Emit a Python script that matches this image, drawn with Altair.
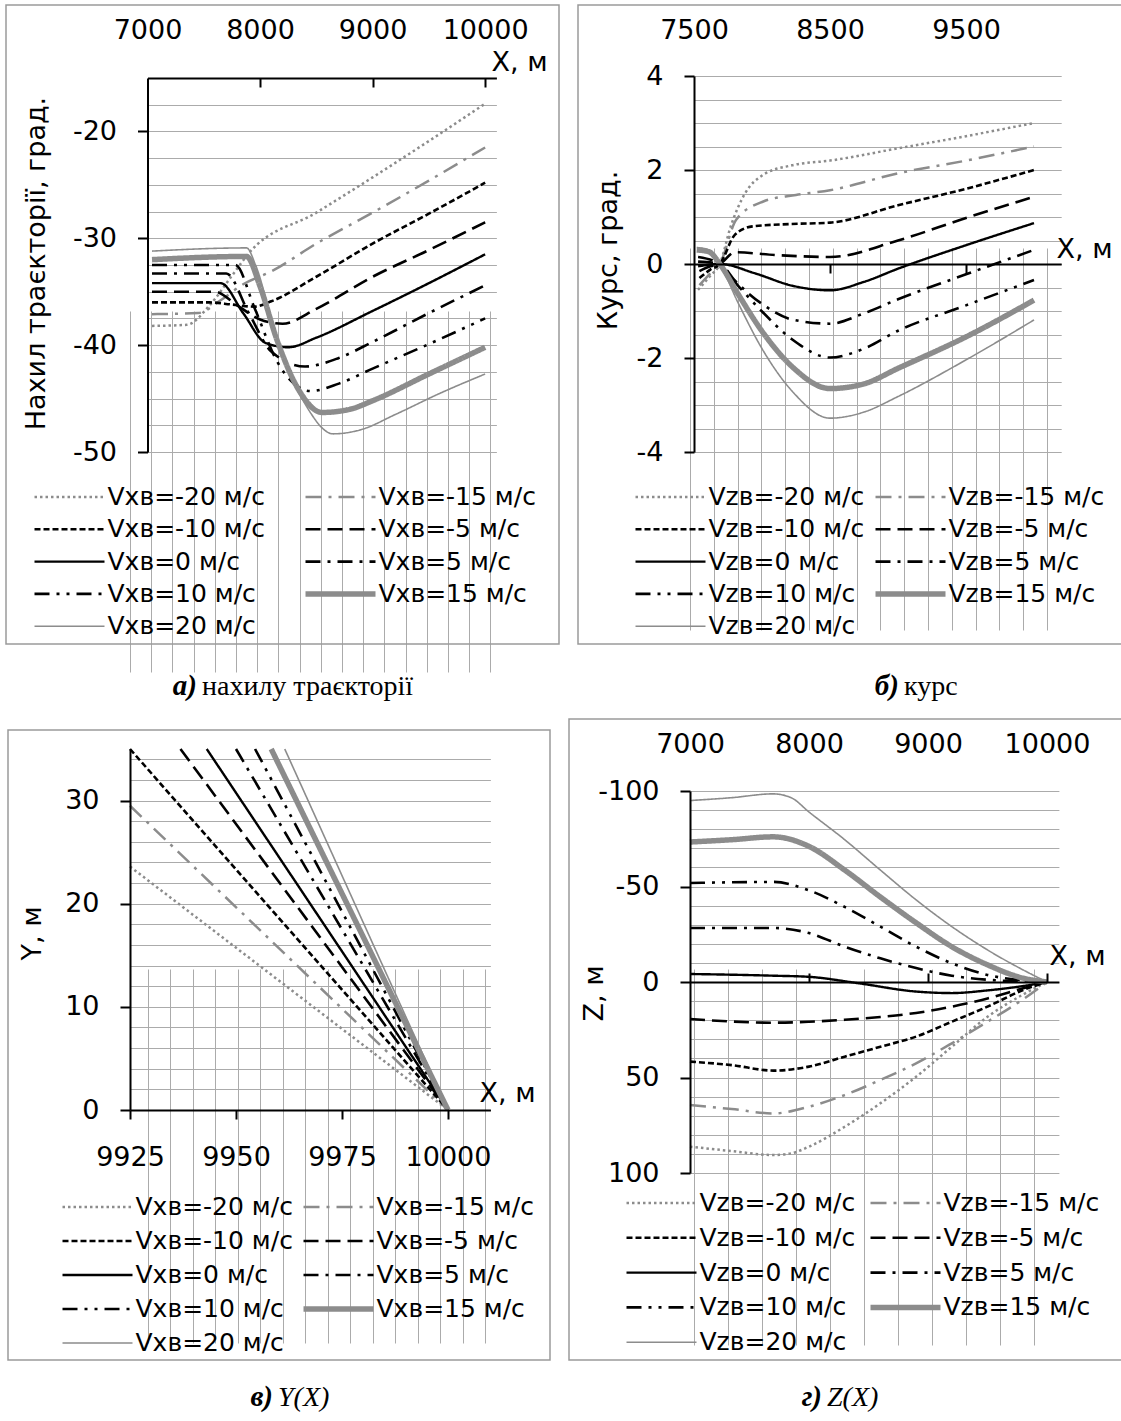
import altair as alt
import pandas as pd

W, H = 1121, 1421
FONT = "DejaVu Sans"
SERIF = "Liberation Serif"
GRID = "#ababab"
FRAME = "#9a9a9a"

winds = [-20, -15, -10, -5, 0, 5, 10, 15, 20]
labels_x = ["Vxв=%d м/с" % w for w in winds]
labels_z = ["Vzв=%d м/с" % w for w in winds]
line_colors = ["#8c8c8c", "#8c8c8c", "#000000", "#000000", "#000000",
               "#000000", "#000000", "#8c8c8c", "#8c8c8c"]
line_dashes = [[2.5, 3], [16, 7, 3, 7], [6, 3], [15, 7], [1, 0],
               [15, 7, 3, 7], [15, 7, 3, 7, 3, 7], [1, 0], [1, 0]]
line_widths = [2.5, 2.5, 2.6, 2.6, 2.4, 2.6, 2.6, 5.5, 1.6]
# legend is filled column by column: first column -20,-10,0,10,20; second -15,-5,5,15
legend_order = [0, 2, 4, 6, 8, 1, 3, 5, 7]

# ---- а) trajectory pitch angle, deg ----
pitch_x = {
    -20: [7040, 7350, 7550, 7750, 7900, 8500, 9000, 9500, 10000],
    -15: [7040, 7450, 7650, 7850, 8100, 8500, 9000, 9500, 10000],
    -10: [7040, 7550, 7750, 7950, 8100, 8500, 9000, 9500, 10000],
    -5: [7040, 7600, 7800, 8000, 8200, 8500, 9000, 9500, 10000],
    0: [7040, 7650, 7850, 8050, 8250, 8500, 9000, 9500, 10000],
    5: [7040, 7700, 7900, 8100, 8400, 8700, 9000, 9500, 10000],
    10: [7040, 7780, 7950, 8150, 8450, 8700, 9000, 9500, 10000],
    15: [7040, 7880, 8000, 8150, 8350, 8550, 8800, 9000, 9500, 10000],
    20: [7040, 7880, 7960, 8150, 8400, 8650, 8900, 9200, 9600, 10000],
}
pitch_y = {
    -20: [-38.2, -38.1, -36.3, -33.5, -31.4, -27.6, -24.3, -20.9, -17.4],
    -15: [-37.1, -37.0, -35.8, -34.3, -33.1, -30.5, -27.6, -24.6, -21.5],
    -10: [-36.0, -36.0, -36.2, -36.4, -35.9, -33.6, -30.5, -27.7, -24.8],
    -5: [-35.0, -35.0, -36.3, -37.6, -38.0, -36.6, -33.6, -31.1, -28.5],
    0: [-34.2, -34.2, -37.0, -39.8, -40.2, -39.3, -36.8, -34.2, -31.5],
    5: [-33.3, -33.3, -37.0, -40.6, -42.0, -41.2, -39.7, -37.0, -34.4],
    10: [-32.5, -32.5, -36.5, -41.5, -44.3, -43.6, -42.2, -39.9, -37.5],
    15: [-32.0, -31.7, -34.5, -39.5, -44.3, -46.3, -46.0, -45.2, -42.7, -40.2],
    20: [-31.2, -30.9, -32.5, -39.5, -45.5, -48.3, -47.9, -46.5, -44.5, -42.7],
}

# ---- б) heading, deg ----
course_x = {
    -20: [7530, 7620, 7690, 7770, 7875, 8010, 8220, 8500, 9000, 9500, 10000],
    -15: [7540, 7620, 7690, 7810, 8010, 8250, 8500, 9000, 9500, 10000],
    -10: [7540, 7620, 7690, 7800, 7930, 8200, 8500, 9000, 9500, 10000],
    -5: [7540, 7620, 7690, 7800, 8100, 8500, 9000, 9500, 10000],
    0: [7530, 7690, 7950, 8220, 8500, 8750, 9000, 9500, 10000],
    5: [7530, 7690, 7800, 8000, 8220, 8500, 8750, 9000, 9500, 10000],
    10: [7530, 7690, 7820, 7980, 8220, 8500, 8750, 9000, 9500, 10000],
    15: [7520, 7610, 7690, 7820, 8010, 8220, 8500, 8750, 9000, 9500, 10000],
    20: [7520, 7610, 7690, 7820, 8010, 8220, 8500, 8750, 9000, 9500, 10000],
}
course_y = {
    -20: [-0.55, -0.25, 0.0, 0.8, 1.5, 1.9, 2.1, 2.2, 2.46, 2.72, 3.0],
    -15: [-0.45, -0.2, 0.0, 0.94, 1.33, 1.47, 1.57, 1.93, 2.2, 2.5],
    -10: [-0.3, -0.12, 0.0, 0.62, 0.8, 0.85, 0.88, 1.25, 1.6, 2.0],
    -5: [-0.15, -0.05, 0.0, 0.25, 0.19, 0.15, 0.5, 0.98, 1.43],
    0: [-0.05, 0.0, -0.2, -0.46, -0.56, -0.38, -0.1, 0.4, 0.87],
    5: [0.05, 0.0, -0.35, -0.85, -1.18, -1.27, -1.05, -0.75, -0.22, 0.3],
    10: [0.15, 0.0, -0.45, -0.95, -1.6, -1.99, -1.8, -1.42, -0.88, -0.34],
    15: [0.3, 0.26, 0.0, -0.62, -1.47, -2.18, -2.65, -2.55, -2.22, -1.55, -0.77],
    20: [0.35, 0.3, 0.0, -0.8, -1.85, -2.7, -3.28, -3.15, -2.82, -2.04, -1.19],
}

# ---- в) Y(X), m ----
yx_x = {
    -20: [9925, 10000], -15: [9925, 10000], -10: [9925, 10000],
    -5: [9936.9, 10000], 0: [9943.1, 10000], 5: [9950.0, 10000],
    10: [9954.5, 10000], 15: [9958.3, 10000], 20: [9961.5, 10000],
}
yx_y = {
    -20: [23.6, 0], -15: [29.5, 0], -10: [35.0, 0], -5: [35, 0], 0: [35, 0],
    5: [35, 0], 10: [35, 0], 15: [35, 0], 20: [35, 0],
}

# ---- г) Z(X), m ----
zx_x = {
    20: [7000, 7350, 7700, 7850, 8000, 8300, 8600, 8900, 9200, 9500, 9800, 10000],
    15: [7000, 7350, 7700, 8000, 8300, 8600, 8900, 9200, 9500, 9800, 10000],
    10: [7000, 7350, 7700, 8000, 8300, 8600, 8900, 9200, 9500, 9800, 10000],
    5: [7000, 7700, 8000, 8300, 8600, 8900, 9200, 9500, 10000],
    0: [7000, 7700, 8000, 8400, 8900, 9200, 9500, 9800, 10000],
    -5: [7000, 7700, 8000, 8300, 8600, 8900, 9200, 9500, 9800, 10000],
    -10: [7000, 7350, 7700, 8000, 8300, 8600, 8900, 9200, 9500, 9800, 10000],
    -15: [7000, 7350, 7700, 8000, 8300, 8600, 8900, 9200, 9500, 9800, 10000],
    -20: [7000, 7350, 7700, 7850, 8000, 8300, 8600, 8900, 9200, 9500, 9800, 10000],
}
zx_y = {
    20: [-95, -96.5, -98.5, -96.5, -89, -74.5, -58.6, -43, -29, -16.8, -6.3, 0],
    15: [-73.3, -74.5, -76, -71, -58.6, -44.5, -31, -18.5, -9, -2, 0],
    10: [-51.8, -52.2, -52.4, -48, -39.3, -29, -18.5, -9.8, -3.7, -0.8, 0],
    5: [-28.3, -28.3, -25.6, -18.5, -12.4, -7.3, -3.3, -1.2, 0],
    0: [-4.2, -3.3, -2.7, 0.5, 5.0, 5.8, 4.4, 2.1, 0],
    -5: [19.4, 21.3, 20.8, 19.8, 18.3, 16.2, 12.9, 8.6, 3.3, 0],
    -10: [41.7, 43.5, 46.4, 44.3, 39.1, 33.9, 28.6, 20.8, 12.9, 4.2, 0],
    -15: [64.4, 66.5, 68.8, 65.3, 59.2, 51.3, 42.6, 32.1, 20.8, 9.0, 0],
    -20: [86.2, 88.5, 90.6, 89.7, 86.2, 75.8, 63.5, 49.6, 33.9, 18.2, 6.5, 0],
}

captions = [("а)", "нахилу траєкторії", "normal"), ("б)", "курс", "normal"),
            ("в)", "Y(X)", "italic"), ("г)", "Z(X)", "italic")]


def long_df(xs, ys, labs):
    rows = []
    for w, lab in zip(winds, labs):
        for i, (x, y) in enumerate(zip(xs[w], ys[w])):
            rows.append({"s": lab, "x": x, "y": y, "i": i})
    return pd.DataFrame(rows)


panels = [
    dict(df=long_df(pitch_x, pitch_y, labels_x), labs=labels_x,
         xdom=[7000, 10100], xr=[147.5, 496.4], ydom=[-50, -15], yr=[452, 78],
         xgrid=list(range(7000, 10001, 200)), ygrid=[-50 + 2.5 * k for k in range(14)],
         xline=("bottom", 78 - H, [8000, 9000, 10000]),
         yaxis_x=147.5, yvals=[-50, -40, -30, -20],
         ytitle="Нахил траєкторії, град.", ytpos=(36, 263),
         xlab_y=30, xlabs=[7000, 8000, 9000, 10000], xtpos=(519, 62),
         leg=(30.5, 484, 6.3, 36), frame=(6, 5, 559, 644),
         cap=(197, 695)),
    dict(df=long_df(course_x, course_y, labels_z), labs=labels_z,
         xdom=[7500, 10200], xr=[694, 1061.2], ydom=[-4, 4], yr=[452, 76],
         xgrid=list(range(7500, 10001, 250)), ygrid=[-4 + 0.5 * k for k in range(17)],
         xline=("bottom", 264 - H, [8500, 9500]),
         yaxis_x=694, yvals=[-4, -2, 0, 2, 4],
         ytitle="Курс, град.", ytpos=(608, 250),
         xlab_y=30, xlabs=[7500, 8500, 9500], xtpos=(1084, 249),
         leg=(631.5, 484, 6.3, 7), frame=(578, 5, 1130, 644),
         cap=(899, 695)),
    dict(df=long_df(yx_x, yx_y, labels_x), labs=labels_x,
         xdom=[9925, 10010], xr=[130, 490.4], ydom=[0, 35], yr=[1110, 749],
         xgrid=list(range(9925, 10011, 5)), ygrid=list(range(0, 35, 2)),
         xline=("bottom", 1110 - H, [9925, 9950, 9975, 10000]),
         yaxis_x=130, yvals=[0, 10, 20, 30],
         ytitle="Y, м", ytpos=(32, 933),
         xlab_y=1157, xlabs=[9925, 9950, 9975, 10000], xtpos=(507, 1093),
         leg=(58.5, 1194, 8, 6), frame=(8, 730, 550, 1360),
         cap=(273, 1406)),
    dict(df=long_df(zx_x, zx_y, labels_z), labs=labels_z,
         xdom=[7000, 10100], xr=[690, 1058.9], ydom=[-100, 100], yr=[791, 1173],
         xgrid=list(range(7000, 10001, 200)), ygrid=list(range(-100, 101, 10)),
         xline=("top", -982, [8000, 9000, 10000]),
         yaxis_x=690, yvals=[-100, -50, 0, 50, 100],
         ytitle="Z, м", ytpos=(594, 993),
         xlab_y=744, xlabs=[7000, 8000, 9000, 10000], xtpos=(1077, 956),
         leg=(622.5, 1190, 8.8, 11), frame=(569, 719, 1130, 1360),
         cap=(822, 1406)),
]


def sc(domain, rng):
    return alt.Scale(domain=domain, range=rng, nice=False, zero=False)


def reorder(seq):
    return [seq[k] for k in legend_order]


def build(p, cap):
    XS = sc(p["xdom"], p["xr"])
    YS = sc(p["ydom"], p["yr"])
    base = alt.Chart(p["df"])
    out = []
    f = p["frame"]
    out.append(alt.Chart(pd.DataFrame({"k": [0]})).mark_rect(
        fillOpacity=0, stroke=FRAME, strokeWidth=1.5).encode(
        x=alt.value(f[0]), x2=alt.value(f[2]), y=alt.value(f[1]), y2=alt.value(f[3])))
    # grid
    out.append(base.mark_point(opacity=0).encode(
        x=alt.X("x:Q", scale=XS, axis=alt.Axis(values=p["xgrid"], orient="bottom", grid=True,
                gridColor=GRID, gridWidth=1, labels=False, ticks=False, domain=False, title=None)),
        y=alt.Y("y:Q", scale=YS, axis=alt.Axis(values=p["ygrid"], orient="left", grid=True,
                gridColor=GRID, gridWidth=1, labels=False, ticks=False, domain=False, title=None))))
    # axis lines, ticks, y labels
    o, off, tv = p["xline"]
    out.append(base.mark_point(opacity=0).encode(
        x=alt.X("x:Q", scale=XS, axis=alt.Axis(values=tv, orient=o, offset=off, grid=False,
                labels=False, ticks=True, tickSize=9, tickWidth=2, tickColor="black",
                domain=True, domainColor="black", domainWidth=2, title=None, zindex=1)),
        y=alt.Y("y:Q", scale=YS, axis=alt.Axis(values=p["yvals"], orient="left",
                offset=-p["yaxis_x"], grid=False, labels=True, labelFont=FONT,
                labelFontSize=27, labelColor="black", labelPadding=21,
                labelExpr="'' + datum.value", labelOverlap=False,
                tickSize=10, tickWidth=2, tickColor="black", domain=True,
                domainColor="black", domainWidth=2, title=p["ytitle"], titleFont=FONT,
                titleFontSize=27, titleFontWeight="normal", titleColor="black",
                titleX=p["ytpos"][0] - p["yaxis_x"], titleY=p["ytpos"][1], titleAngle=270,
                titleAlign="center", titleBaseline="middle", zindex=1))))
    # x labels + X title
    out.append(base.mark_point(opacity=0).encode(
        x=alt.X("x:Q", scale=XS, axis=alt.Axis(values=p["xlabs"], orient="top",
                offset=-p["xlab_y"], grid=False, labels=True, ticks=False, domain=False,
                labelPadding=0, labelBaseline="middle", labelFont=FONT, labelFontSize=27,
                labelColor="black", labelFlush=False, labelOverlap=False,
                labelExpr="'' + datum.value", title="X, м", titleFont=FONT,
                titleFontSize=27, titleFontWeight="normal", titleColor="black",
                titleX=p["xtpos"][0], titleY=p["xtpos"][1] - p["xlab_y"], titleAngle=0,
                titleAlign="center", titleBaseline="middle")),
        y=alt.Y("y:Q", scale=YS, axis=None)))
    # data lines + legend
    lx, ly, rp, cp = p["leg"]
    leg = alt.Legend(title=None, orient="none", legendX=lx, legendY=ly, columns=2,
                     symbolType="stroke", symbolSize=4900, clipHeight=26, labelFont=FONT,
                     labelFontSize=25, labelColor="black", labelOffset=0, rowPadding=rp,
                     columnPadding=cp, labelLimit=400, symbolOffset=1, padding=0)
    dom = reorder(p["labs"])
    out.append(base.mark_line(clip=False, interpolate="monotone").encode(
        x=alt.X("x:Q", scale=XS, axis=None),
        y=alt.Y("y:Q", scale=YS, axis=None),
        color=alt.Color("s:N", scale=alt.Scale(domain=dom, range=reorder(line_colors)), legend=leg),
        strokeDash=alt.StrokeDash("s:N", scale=alt.Scale(domain=dom, range=reorder(line_dashes)), legend=leg),
        strokeWidth=alt.StrokeWidth("s:N", scale=alt.Scale(type="ordinal", domain=dom, range=reorder(line_widths)), legend=leg),
        order="i:Q"))
    # caption
    cx, cy = p["cap"]
    out.append(alt.Chart(pd.DataFrame({"t": [cap[0]]})).mark_text(
        font=SERIF, fontSize=29, fontStyle="italic", fontWeight="bold", align="right",
        baseline="alphabetic", color="black").encode(
        x=alt.value(cx), y=alt.value(cy), text="t:N"))
    out.append(alt.Chart(pd.DataFrame({"t": [cap[1]]})).mark_text(
        font=SERIF, fontSize=28, fontStyle=cap[2], align="left",
        baseline="alphabetic", color="black").encode(
        x=alt.value(cx + 5), y=alt.value(cy), text="t:N"))
    return out


layers = []
for p, cap in zip(panels, captions):
    layers += build(p, cap)

chart = alt.layer(*layers).properties(
    width=W, height=H, padding=0, autosize=alt.AutoSizeParams(type="none"),
    background="white"
).resolve_scale(
    x="independent", y="independent", color="independent",
    strokeDash="independent", strokeWidth="independent"
).resolve_axis(x="independent", y="independent").resolve_legend(
    color="independent", strokeDash="independent", strokeWidth="independent"
).configure_view(stroke=None)

chart.save("out.html", embed_options={"renderer": "svg", "actions": False})
